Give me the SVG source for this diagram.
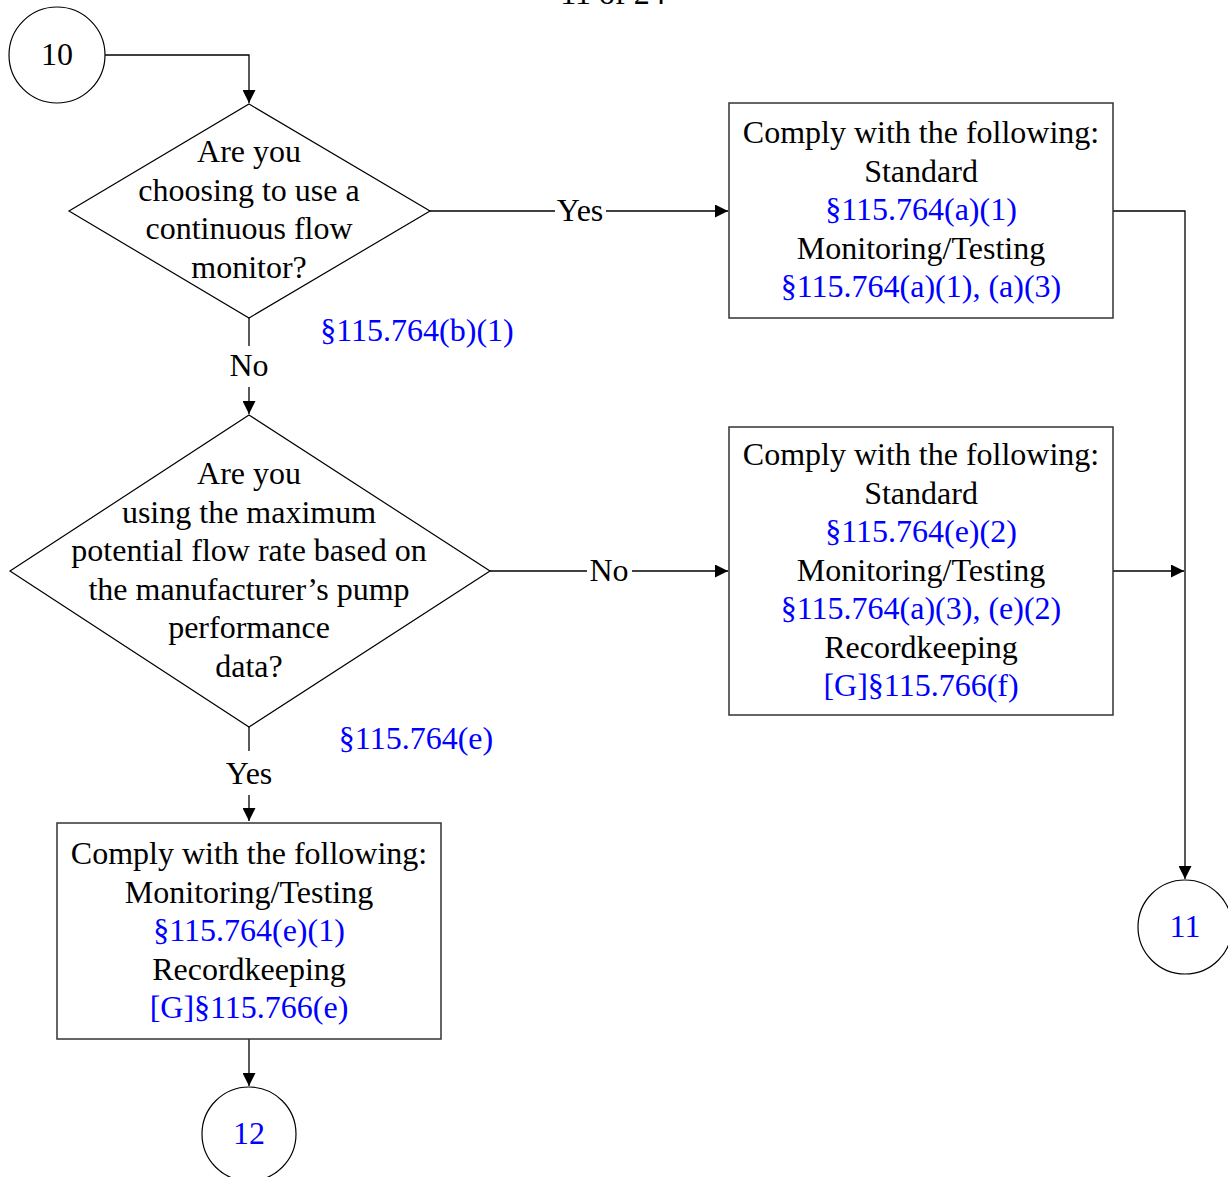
<svg xmlns="http://www.w3.org/2000/svg" width="1228" height="1177" viewBox="0 0 1228 1177">
<style>
text{font-family:"Liberation Serif","Times New Roman",serif;font-size:32px;text-anchor:middle;fill:#000}
.b{fill:#0000ff}
.shape{fill:#fff;stroke:#000;stroke-width:1.2}
.box{fill:#fff;stroke:#333;stroke-width:1.5}
.ln{fill:none;stroke:#000;stroke-width:1.3}
</style>
<defs>
<marker id="ar" viewBox="0 0 10 10" refX="10" refY="5" markerWidth="13" markerHeight="13" markerUnits="userSpaceOnUse" orient="auto">
<path d="M0,0 L10,5 L0,10 z" fill="#000"/>
</marker>
</defs>
<rect width="1228" height="1177" fill="#fff"/>
<text x="613" y="4">11 of 24</text>
<g id="connectors">
<path class="ln" d="M105,55 H249 V103" marker-end="url(#ar)"/>
<path class="ln" d="M430,211 H555"/>
<path class="ln" d="M606,211 H728" marker-end="url(#ar)"/>
<path class="ln" d="M249,318 V346"/>
<path class="ln" d="M249,387 V414" marker-end="url(#ar)"/>
<path class="ln" d="M490,571 H587"/>
<path class="ln" d="M632,571 H728" marker-end="url(#ar)"/>
<path class="ln" d="M249,727 V751"/>
<path class="ln" d="M249,795 V821" marker-end="url(#ar)"/>
<path class="ln" d="M1113,211 H1185 V879" marker-end="url(#ar)"/>
<path class="ln" d="M1113,571 H1184" marker-end="url(#ar)"/>
<path class="ln" d="M249,1039 V1086" marker-end="url(#ar)"/>
<text x="580" y="221">Yes</text>
<text x="249" y="376">No</text>
<text x="609" y="581">No</text>
<text x="249" y="784">Yes</text>
<text class="b" x="417" y="341">§115.764(b)(1)</text>
<text class="b" x="416" y="749">§115.764(e)</text>
</g>
<g id="n10">
<circle class="shape" cx="57" cy="55" r="48"/>
<text x="57" y="65">10</text>
</g>
<g id="d1">
<polygon class="shape" points="249,104 430,211 249,318 69,211"/>
<text x="249" y="162">Are you</text>
<text x="249" y="200.5">choosing to use a</text>
<text x="249" y="239">continuous flow</text>
<text x="249" y="277.5">monitor?</text>
</g>
<g id="b1">
<rect class="box" x="729" y="103" width="384" height="215"/>
<text x="921" y="143">Comply with the following:</text>
<text x="921" y="181.5">Standard</text>
<text class="b" x="921" y="220">§115.764(a)(1)</text>
<text x="921" y="258.5">Monitoring/Testing</text>
<text class="b" x="921" y="297">§115.764(a)(1), (a)(3)</text>
</g>
<g id="d2">
<polygon class="shape" points="249,415 490,571 249,727 10,571"/>
<text x="249" y="484">Are you</text>
<text x="249" y="522.5">using the maximum</text>
<text x="249" y="561">potential flow rate based on</text>
<text x="249" y="599.5">the manufacturer’s pump</text>
<text x="249" y="638">performance</text>
<text x="249" y="676.5">data?</text>
</g>
<g id="b2">
<rect class="box" x="729" y="427" width="384" height="288"/>
<text x="921" y="465">Comply with the following:</text>
<text x="921" y="503.5">Standard</text>
<text class="b" x="921" y="542">§115.764(e)(2)</text>
<text x="921" y="580.5">Monitoring/Testing</text>
<text class="b" x="921" y="619">§115.764(a)(3), (e)(2)</text>
<text x="921" y="657.5">Recordkeeping</text>
<text class="b" x="921" y="696">[G]§115.766(f)</text>
</g>
<g id="b3">
<rect class="box" x="57" y="823" width="384" height="216"/>
<text x="249" y="864">Comply with the following:</text>
<text x="249" y="902.5">Monitoring/Testing</text>
<text class="b" x="249" y="941">§115.764(e)(1)</text>
<text x="249" y="979.5">Recordkeeping</text>
<text class="b" x="249" y="1018">[G]§115.766(e)</text>
</g>
<g id="n11">
<circle class="shape" cx="1185" cy="927" r="47"/>
<text class="b" x="1185" y="937">11</text>
</g>
<g id="n12">
<circle class="shape" cx="249" cy="1134" r="47"/>
<text class="b" x="249" y="1144">12</text>
</g>
</svg>
